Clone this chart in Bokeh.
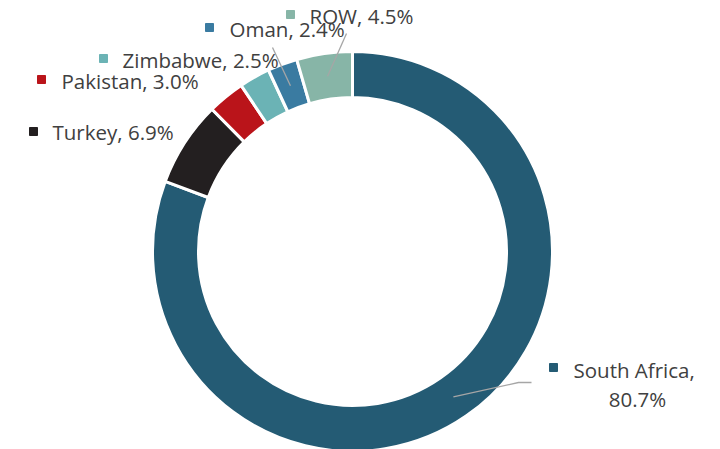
import math
from bokeh.plotting import figure
from bokeh.models import Range1d, ColumnDataSource
from bokeh.core.properties import value
from bokeh.embed import file_html
from bokeh.resources import INLINE

# ---- data ----
countries = ["South Africa", "Turkey", "Pakistan", "Zimbabwe", "Oman", "ROW"]
shares = [80.7, 6.9, 3.0, 2.5, 2.4, 4.5]
colors = ["#245B74", "#231F20", "#BA141A", "#6BB3B5", "#3A7BA1", "#87B5A7"]

# ---- layout (reference pixel coords, y downward) ----
W, H = 720, 449
CX, CY = 352, 251
R_OUT, R_IN = 200, 154
label_pos = {  # marker x, marker y, text x, text y
    "South Africa": (553, 367, 573, 369),
    "Turkey": (33, 131, 52, 131),
    "Pakistan": (41, 79, 61, 80),
    "Zimbabwe": (103, 58, 122, 59),
    "Oman": (209, 27, 229, 28),
    "ROW": (290, 14, 309, 15),
}
leader_end = {
    "South Africa": [(518, 382), (531, 382)],
    "Oman": [(272, 47)],
    "ROW": [(346, 33)],
}

def Y(y):
    return 449 - y

p = figure(width=W, height=H, output_backend="svg", toolbar_location=None,
           x_range=Range1d(0, W), y_range=Range1d(449 - H, 449),
           min_border=0, outline_line_color=None)
p.axis.visible = False
p.grid.visible = False

total = sum(shares)
starts, ends, mids = [], [], []
a = math.pi / 2
for s in shares:
    e = a - s / total * 2 * math.pi
    starts.append(a)
    ends.append(e)
    mids.append((a + e) / 2)
    a = e

src = ColumnDataSource(dict(start=starts, end=ends, color=colors))
p.annular_wedge(x=CX, y=Y(CY), inner_radius=R_IN, outer_radius=R_OUT,
                start_angle="end", end_angle="start", color="color",
                line_color="white", line_width=3, source=src)

# leader lines
r_mid = (R_IN + R_OUT) / 2
for name, pts in leader_end.items():
    i = countries.index(name)
    x0 = CX + r_mid * math.cos(mids[i])
    y0 = Y(CY) + r_mid * math.sin(mids[i])
    xs = [x0] + [q[0] for q in pts]
    ys = [y0] + [Y(q[1]) for q in pts]
    p.line(xs, ys, line_color="#A6A6A6", line_width=1.3)

font = value("Open Sans")
fs = "20.5px"
for i, name in enumerate(countries):
    mx, my, tx, ty = label_pos[name]
    p.scatter([mx], [Y(my)], marker="square", size=8, color=colors[i])
    if name == "South Africa":
        p.text([tx], [Y(ty)], text=[name + ","], text_font=font, text_font_size=fs,
               text_color="#404040", text_align="left", text_baseline="middle")
        p.text([tx + 64], [Y(ty + 29)], text=[f"{shares[i]:.1f}%"], text_font=font,
               text_font_size=fs, text_color="#404040", text_align="center",
               text_baseline="middle")
    else:
        p.text([tx], [Y(ty)], text=[f"{name}, {shares[i]:.1f}%"], text_font=font,
               text_font_size=fs, text_color="#404040", text_align="left",
               text_baseline="middle")

open("out.html", "w").write(file_html(p, INLINE))
